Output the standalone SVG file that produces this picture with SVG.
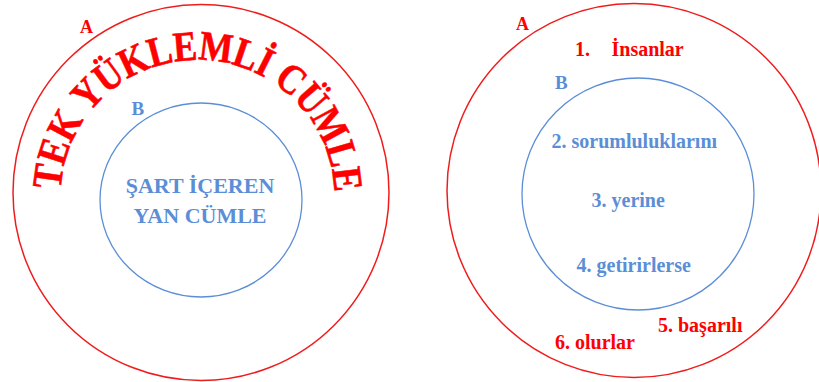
<svg xmlns="http://www.w3.org/2000/svg" width="819" height="382" viewBox="0 0 819 382">
<style>
.red{fill:#FF0000;font-family:"Liberation Serif","Times New Roman",serif;font-weight:bold}
.blue{fill:#5B8ED6;font-family:"Liberation Serif","Times New Roman",serif;font-weight:bold}
.arc text{fill:#FF0000;stroke:#FF0000;stroke-width:0.6;font-family:"Liberation Serif","Times New Roman",serif;font-weight:bold;font-size:42px;text-anchor:middle}
.ro{fill:none;stroke:#F01C1C;stroke-width:1.5}
.bo{fill:none;stroke:#5B8ED6;stroke-width:1.3}
</style>
<rect width="819" height="382" fill="#ffffff"/>
<g id="left-outer">
<circle class="ro" cx="201" cy="192.5" r="188"/>
<text class="red" x="80" y="33" font-size="18">A</text>
<g class="arc" id="arc-title">
<text transform="translate(61.80,178.17) rotate(-82.1) scale(0.85,1)">T</text>
<text transform="translate(66.99,155.35) rotate(-72.3) scale(0.85,1)">E</text>
<text transform="translate(76.99,131.84) rotate(-61.6) scale(0.85,1)">K</text>
<text transform="translate(97.44,103.42) rotate(-46.9) scale(0.85,1)">Y</text>
<text transform="translate(116.39,86.59) rotate(-36.3) scale(0.85,1)">Ü</text>
<text transform="translate(139.17,73.04) rotate(-25.2) scale(0.85,1)">K</text>
<text transform="translate(162.97,64.42) rotate(-14.6) scale(0.85,1)">L</text>
<text transform="translate(186.04,60.48) rotate(-4.8) scale(0.85,1)">E</text>
<text transform="translate(214.43,61.05) rotate(7.1) scale(0.85,1)">M</text>
<text transform="translate(241.88,67.39) rotate(18.9) scale(0.85,1)">L</text>
<text transform="translate(259.06,74.61) rotate(26.7) scale(0.85,1)">İ</text>
<text transform="translate(282.78,89.78) rotate(38.5) scale(0.85,1)">C</text>
<text transform="translate(301.21,107.48) rotate(49.2) scale(0.85,1)">Ü</text>
<text transform="translate(317.78,131.42) rotate(61.4) scale(0.85,1)">M</text>
<text transform="translate(328.72,157.63) rotate(73.3) scale(0.85,1)">L</text>
<text transform="translate(333.51,180.54) rotate(83.1) scale(0.85,1)">E</text>
</g>
</g>
<g id="left-inner">
<ellipse class="bo" cx="201" cy="200" rx="101" ry="97"/>
<text class="blue" x="131.5" y="115" font-size="19">B</text>
<text class="blue" x="200" y="193" font-size="22" text-anchor="middle">ŞART İÇEREN</text>
<text class="blue" x="200" y="223" font-size="22" text-anchor="middle">YAN CÜMLE</text>
</g>
<g id="right-outer">
<circle class="ro" cx="634" cy="190.5" r="187"/>
<text class="red" x="516" y="30" font-size="18">A</text>
<text class="red" x="575" y="56" font-size="20">1.</text>
<text class="red" x="611.5" y="56" font-size="20">İnsanlar</text>
<text class="red" x="658" y="332" font-size="20">5. başarılı</text>
<text class="red" x="555" y="349" font-size="20">6. olurlar</text>
</g>
<g id="right-inner">
<circle class="bo" cx="638" cy="194" r="116"/>
<text class="blue" x="555" y="89" font-size="19">B</text>
<text class="blue" x="551.5" y="148" font-size="20">2. sorumluluklarını</text>
<text class="blue" x="591.5" y="207" font-size="20">3. yerine</text>
<text class="blue" x="576.5" y="271.5" font-size="20">4. getirirlerse</text>
</g>
<g id="connectors"></g>
</svg>
